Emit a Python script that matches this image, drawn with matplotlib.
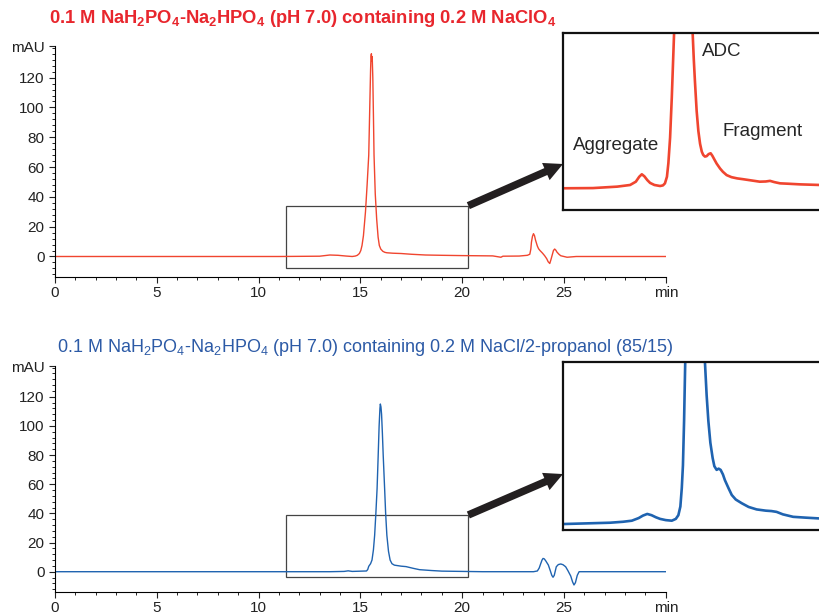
import matplotlib
matplotlib.use("Agg")
import matplotlib.pyplot as plt
from matplotlib.patches import Rectangle
from matplotlib.ticker import MultipleLocator

plt.rcParams['font.family'] = ['Liberation Sans', 'DejaVu Sans']
plt.rcParams['mathtext.default'] = 'regular'

# run 1: NaClO4 (red)
t_red = [0, 11.0, 13.0, 13.5, 13.9, 14.3, 14.6, 14.75, 14.85, 14.95, 15.02, 15.08,
         15.15, 15.25, 15.33, 15.41, 15.46, 15.5, 15.52, 15.54, 15.56, 15.58, 15.61,
         15.64, 15.67, 15.73, 15.8, 15.87, 15.93, 16.0, 16.1, 16.2, 16.3, 16.6,
         17.0, 17.5, 18.2, 19.0, 20.0, 21.5, 21.9, 22.0, 22.8, 23.2, 23.32, 23.37,
         23.4, 23.45, 23.5, 23.55, 23.6, 23.69, 23.75, 23.82, 23.94, 24.05, 24.15,
         24.22, 24.3, 24.36, 24.42, 24.48, 24.54, 24.6, 24.65, 24.75, 24.84, 25.15,
         25.6, 30]
y_red = [0, 0, 0.2, 1.0, 0.8, 0.3, 0, 0.3, 0.8, 2.0, 4.0, 7.4,
         14, 30, 48, 68, 100, 125, 134, 136, 131, 134, 120,
         95, 68, 42, 25, 13, 7.4, 5.0, 3.5, 2.8, 2.5, 2.2,
         2.0, 1.5, 1.0, 0.8, 0.6, 0.4, -0.5, 0.2, 0.3, 0.8, 1.5, 5.0,
         9.6, 13.5, 15.3, 14, 11, 7, 5.2, 4.0, 2.3, 0.5, -1.5,
         -3.5, -4.7, -2.0, 1.0, 4.0, 5.0, 4.2, 3.0, 1.5, 0.5, -0.5,
         0, 0]

# run 2: NaCl/2-propanol (blue)
t_blue = [0, 13.5, 14.2, 14.4, 14.6, 15.3, 15.36, 15.41, 15.5, 15.57, 15.64, 15.7,
          15.76, 15.82, 15.87, 15.92, 15.96, 15.98, 16.01, 16.04, 16.08, 16.12, 16.19,
          16.24, 16.3, 16.38, 16.46, 16.55, 16.67, 17.0, 17.24, 17.6, 17.9, 18.5,
          19.0, 20.0, 21.0, 23.5, 23.69, 23.78, 23.86, 23.92, 23.97, 24.03, 24.1,
          24.23, 24.33, 24.4, 24.46, 24.52, 24.62, 24.72, 24.84, 24.95, 25.08, 25.2,
          25.33, 25.42, 25.49, 25.56, 25.65, 25.74, 30]
y_blue = [0, 0, 0.2, 0.6, 0.2, 0.5, 1.5, 3.7, 5.5, 8, 15, 25,
          40, 57, 78, 100, 112, 115, 113, 108, 95, 80, 57,
          40, 25, 14, 8, 5.5, 4.5, 3.8, 3.5, 2.3, 1.4, 0.8,
          0.4, 0.2, 0, 0, 0.5, 2.5, 5.7, 8, 9.1, 8.8, 7.5,
          4.6, 0.5, -2.5, -3.8, -2.5, 3.4, 4.9, 5.3, 4.8, 3.4, 0.5,
          -3.0, -7, -9.1, -7.5, -2.5, 0, 0]

# zoomed views (inset units)
t_red_zoom = [11.31, 12.35, 13.2, 13.65, 13.85, 13.97, 14.06, 14.15, 14.25, 14.35,
              14.5, 14.70, 14.8, 14.87, 14.94, 14.99, 15.05, 15.11, 15.19,
              15.35, 15.5, 15.7, 15.84, 15.88, 15.92, 15.98, 16.04, 16.1, 16.16,
              16.21, 16.27, 16.33, 16.4, 16.47, 16.53, 16.6, 16.68, 16.8, 16.9,
              17.03, 17.2, 17.4, 17.61, 17.9, 18.19, 18.4, 18.55, 18.7, 18.90,
              19.2, 19.60, 20.30]
y_red_zoom = [-0.3, -0.25, 0.1, 0.5, 1.3, 2.5, 3.1, 2.6, 1.7, 1.0,
              0.5, 0.25, 0.4, 0.9, 2.5, 5.8, 12, 21.8, 37.4,
              80, 130, 80, 37.4, 31, 25.7, 18.5, 13.6, 10.5, 8.6,
              7.8, 7.4, 7.5, 8.0, 8.2, 7.6, 6.7, 5.7, 4.5, 3.7,
              2.9, 2.4, 2.1, 1.9, 1.6, 1.3, 1.35, 1.5, 1.2, 0.9,
              0.8, 0.65, 0.5]
t_blue_zoom = [11.31, 12.95, 13.4, 13.71, 13.95, 14.1, 14.25, 14.4, 14.55, 14.70,
               14.9, 15.11, 15.25, 15.34, 15.41, 15.46, 15.5, 15.54, 15.58,
               15.75, 15.92, 16.1, 16.27, 16.33, 16.39, 16.46, 16.54, 16.6, 16.68,
               16.75, 16.82, 16.9, 16.97, 17.1, 17.21, 17.35, 17.56, 17.8, 18.08,
               18.4, 18.6, 18.78, 19.0, 19.36, 19.8, 20.30]
y_blue_zoom = [-0.25, 0.07, 0.3, 0.56, 1.2, 1.8, 2.2, 1.9, 1.4, 1.0,
               0.7, 0.56, 1.0, 1.9, 4.0, 8.5, 14, 24.8, 39.1,
               90, 150, 90, 39.1, 31, 24.8, 19.5, 15.8, 13.8, 12.9,
               13.2, 12.9, 11.8, 10.4, 8.4, 6.8, 5.7, 4.8, 3.9, 3.3,
               3.0, 2.9, 2.7, 2.1, 1.5, 1.3, 1.1]

yticks = [0, 20, 40, 60, 80, 100, 120, 141]
ylabels = ['0', '20', '40', '60', '80', '100', '120', 'mAU']
xticks = [0, 5, 10, 15, 20, 25, 30]
xlabels = ['0', '5', '10', '15', '20', '25', 'min']

red_line = '#f0452f'
red_title = '#e8262d'
blue_line = '#1f63b0'
blue_title = '#2c5aa6'

fig = plt.figure(figsize=(8.2, 6.15), dpi=100)


def main_axes(rect, t, y, color, box):
    ax = fig.add_axes(rect)
    ax.plot(t, y, color=color, lw=1.0)
    ax.set_xlim(0, 30)
    ax.set_ylim(-14, 141)
    ax.spines['top'].set_visible(False)
    ax.spines['right'].set_visible(False)
    ax.spines['left'].set_linewidth(0.8)
    ax.spines['bottom'].set_linewidth(0.8)
    ax.set_xticks(xticks)
    ax.set_xticklabels(xlabels)
    ax.set_yticks(yticks)
    ax.set_yticklabels(ylabels)
    ax.xaxis.set_minor_locator(MultipleLocator(1))
    ax.yaxis.set_minor_locator(MultipleLocator(4))
    ax.tick_params(which='major', direction='out', length=4, width=0.8,
                   labelsize=11, colors='#222222')
    ax.tick_params(which='minor', direction='out', length=2, width=0.6)
    ax.tick_params(axis='x', pad=2.5)
    ax.add_patch(Rectangle((box[0], box[2]), box[1] - box[0], box[3] - box[2],
                           fill=False, ec='#444444', lw=0.9))
    return ax


def zoom_axes(rect, t, y, color, ylim):
    ax = fig.add_axes(rect)
    ax.plot(t, y, color=color, lw=1.9)
    ax.set_xlim(11.3, 20.3)
    ax.set_ylim(*ylim)
    ax.set_xticks([])
    ax.set_yticks([])
    ax.spines['right'].set_visible(False)
    for s in ['top', 'left', 'bottom']:
        ax.spines[s].set_linewidth(1.6)
        ax.spines[s].set_color('#111111')
    return ax


ax1 = main_axes([0.067, 0.549, 0.745, 0.3757], t_red, y_red, red_line,
                (11.35, 20.3, -7.8, 34.1))
ax2 = main_axes([0.067, 0.0372, 0.745, 0.3675], t_blue, y_blue, blue_line,
                (11.35, 20.3, -3.6, 38.9))

ins1 = zoom_axes([0.6866, 0.6585, 0.3134, 0.2878], t_red_zoom, y_red_zoom,
                 red_line, (-5.58, 37.4))
ins2 = zoom_axes([0.6866, 0.1382, 0.3134, 0.2732], t_blue_zoom, y_blue_zoom,
                 blue_line, (-1.7, 39.1))

lbl = dict(fontsize=13.5, color='#262626', ha='center', va='center',
           transform=ins1.transAxes)
ins1.text(0.617, 0.894, 'ADC', **lbl)
ins1.text(0.207, 0.367, 'Aggregate', **lbl)
ins1.text(0.778, 0.442, 'Fragment', **lbl)

arrow = dict(arrowstyle='simple,head_length=0.75,head_width=0.75,tail_width=0.3',
             fc='#231f20', ec='none', shrinkA=0, shrinkB=0, mutation_scale=18)
ax1.annotate('', xy=(0.0, 0.26), xycoords=ins1.transAxes,
             xytext=(20.3, 34.1), textcoords='data', arrowprops=arrow)
ax2.annotate('', xy=(0.0, 0.333), xycoords=ins2.transAxes,
             xytext=(20.3, 38.9), textcoords='data', arrowprops=arrow)

fig.text(0.06, 0.970, r'0.1 M NaH$_2$PO$_4$-Na$_2$HPO$_4$ (pH 7.0) containing 0.2 M NaClO$_4$',
         color=red_title, fontsize=13.2, fontweight='bold', va='center', ha='left')
fig.text(0.07, 0.435,
         r'0.1 M NaH$_2$PO$_4$-Na$_2$HPO$_4$ (pH 7.0) containing 0.2 M NaCl/2-propanol (85/15)',
         color=blue_title, fontsize=13, va='center', ha='left')

fig.savefig('out.png', dpi=100)
